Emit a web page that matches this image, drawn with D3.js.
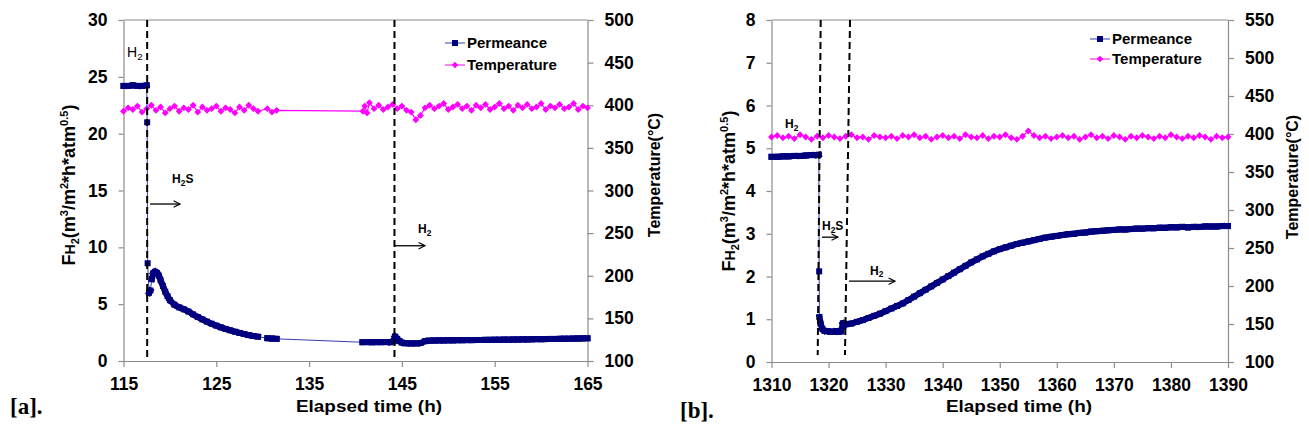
<!DOCTYPE html>
<html><head><meta charset="utf-8">
<script src="https://cdn.jsdelivr.net/npm/d3@7"></script>
<style>
body{margin:0;background:#fff;}
</style></head><body>
<svg id="c" width="1309" height="437"></svg>
<script>
// ---------------- DATA ----------------
// Panel [a]: permeance F_H2 (left axis) [hours, value]
const permA = [
 [115,24.2],[115.5,24.2],[116,24.25],[116.5,24.2],[117,24.2],[117.5,24.25],
 [117.55,21.0],[117.6,8.6],[117.75,6.0],[117.9,6.2],[118.05,7.2],[118.2,7.7],[118.4,7.85],[118.6,7.75],[118.8,7.5],
 [119,7.1],[119.25,6.6],[119.5,6.1],[119.75,5.7],[120,5.35],[120.5,4.95],[121,4.72],[121.5,4.55],[122,4.35],
 [122.5,4.1],[123,3.87],[123.5,3.66],[124,3.46],[124.5,3.28],[125,3.11],[125.5,2.96],[126,2.82],[126.5,2.7],
 [127,2.58],[127.5,2.47],[128,2.37],[128.5,2.28],[129,2.2],[129.5,2.14],
 [130.5,2.0],[131,1.97],[131.5,1.95],
 [140.75,1.65],[141.25,1.66],[141.75,1.65],[142.25,1.66],[142.75,1.66],[143.25,1.67],[143.75,1.66],
 [144.1,1.75],[144.25,2.15],[144.5,1.95],[144.75,1.75],[145,1.62],[145.5,1.56],[146,1.55],[146.5,1.55],
 [147,1.58],[147.5,1.74],[148,1.79],[148.5,1.8],[149,1.81],[149.5,1.81],[150,1.82],[150.5,1.82],[151,1.83],
 [151.5,1.83],[152,1.84],[152.5,1.84],[153,1.85],[153.5,1.85],[154,1.86],[154.5,1.86],[155,1.87],[155.5,1.87],
 [156,1.88],[156.5,1.88],[157,1.89],[157.5,1.89],[158,1.9],[158.5,1.9],[159,1.91],[159.5,1.92],[160,1.92],
 [160.5,1.93],[161,1.94],[161.5,1.94],[162,1.95],[162.5,1.96],[163,1.96],[163.5,1.97],[164,1.98],[164.5,1.99],[165,2.0]
];
// Panel [a]: temperature (right axis, °C)
const tempA = [
 [115,393],[115.5,397],[116,395],[116.5,399],[117,392],[117.5,396],[118,400],[118.5,394],[119,398],[119.5,391],
 [120,396],[120.5,399],[121,393],[121.5,397],[122,395],[122.5,400],[123,392],[123.5,398],[124,394],[124.5,396],
 [125,399],[125.5,393],[126,397],[126.5,395],[127,391],[127.5,398],[128,394],[128.5,400],[129,396],[129.5,393],
 [130.5,396],[131,392],[131.5,394],
 [140.8,393],[141,399],[141.25,391],[141.5,403],[142,396],[142.5,400],[143,395],[143.5,398],[144,401],[144.5,396],[145,399],[145.5,394],
 [146,392],[146.5,383],[147,388],[147.5,397],[148,400],[148.5,396],[149,399],[149.5,402],[150,395],[150.5,398],
 [151,401],[151.5,396],[152,399],[152.5,394],[153,400],[153.5,397],[154,401],[154.5,395],[155,398],[155.5,402],
 [156,396],[156.5,399],[157,394],[157.5,400],[158,397],[158.5,401],[159,396],[159.5,398],[160,402],[160.5,395],
 [161,399],[161.5,397],[162,401],[162.5,396],[163,398],[163.5,402],[164,395],[164.5,399],[165,397]
];
// Panel [b]: permeance
const permB = [
 [1310,4.8],[1311,4.8],[1312,4.81],[1313,4.81],[1314,4.82],[1315,4.82],[1316,4.83],[1317,4.84],[1318,4.84],[1318.3,4.85],
 [1318.35,2.12],[1318.4,1.05],[1318.6,0.9],[1318.9,0.78],[1319.3,0.73],[1319.8,0.72],[1320.3,0.71],[1320.8,0.71],
 [1321.3,0.72],[1321.8,0.71],[1322.2,0.72],[1322.5,0.9],[1322.7,0.86],
 [1323,0.88],[1324,0.9],[1325,0.94],[1326,0.98],[1327,1.03],[1328,1.08],[1329,1.13],[1330,1.19],[1331,1.25],[1332,1.31],
 [1333,1.37],[1334,1.45],[1335,1.53],[1336,1.61],[1337,1.69],[1338,1.77],[1339,1.85],[1340,1.93],[1341,2.01],[1342,2.09],
 [1343,2.17],[1344,2.25],[1345,2.33],[1346,2.4],[1347,2.47],[1348,2.53],[1349,2.59],[1350,2.64],[1351,2.68],[1352,2.72],
 [1353,2.76],[1354,2.79],[1355,2.82],[1356,2.85],[1357,2.88],[1358,2.91],[1359,2.93],[1360,2.95],[1361,2.97],[1362,2.99],
 [1363,3.0],[1364,3.02],[1365,3.03],[1366,3.05],[1367,3.06],[1368,3.07],[1369,3.08],[1370,3.09],[1371,3.1],[1372,3.1],
 [1373,3.11],[1374,3.12],[1375,3.12],[1376,3.13],[1377,3.13],[1378,3.14],[1379,3.14],[1380,3.15],[1381,3.15],[1382,3.16],
 [1383,3.15],[1384,3.16],[1385,3.16],[1386,3.17],[1387,3.17],[1388,3.17],[1389,3.18],[1390,3.18]
];
// Panel [b]: temperature
const tempB = [
 [1310,396],[1311,398],[1312,395],[1313,397],[1314,394],[1315,399],[1316,396],[1317,393],[1318,397],[1319,395],
 [1320,398],[1321,396],[1322,394],[1323,397],[1324,399],[1325,395],[1326,396],[1327,393],[1328,398],[1329,396],
 [1330,395],[1331,397],[1332,394],[1333,398],[1334,396],[1335,399],[1336,395],[1337,397],[1338,393],[1339,396],
 [1340,398],[1341,395],[1342,397],[1343,394],[1344,399],[1345,396],[1346,395],[1347,398],[1348,394],[1349,397],
 [1350,396],[1351,399],[1352,395],[1353,393],[1354,397],[1355,404],[1356,398],[1357,395],[1358,397],[1359,394],
 [1360,396],[1361,398],[1362,395],[1363,397],[1364,393],[1365,396],[1366,399],[1367,395],[1368,397],[1369,394],
 [1370,398],[1371,396],[1372,393],[1373,397],[1374,395],[1375,398],[1376,396],[1377,394],[1378,397],[1379,395],
 [1380,399],[1381,396],[1382,394],[1383,397],[1384,395],[1385,398],[1386,396],[1387,393],[1388,397],[1389,395],[1390,396]
];
// Tick labels
const xTicksA = [115,125,135,145,155,165];
const yLTicksA = [0,5,10,15,20,25,30];
const yRTicksA = [100,150,200,250,300,350,400,450,500];
const xTicksB = [1310,1320,1330,1340,1350,1360,1370,1380,1390];
const yLTicksB = [0,1,2,3,4,5,6,7,8];
const yRTicksB = [100,150,200,250,300,350,400,450,500,550];
// Gas switch lines: [hour at top, hour at bottom]
const switchA = [[117.55,117.55],[144.2,144.2]];
const switchB = [[1318.62,1318.1],[1323.76,1322.88]];
const legendNames = ["Permeance","Temperature"];

// ---------------- DRAWING ----------------
const FONT = '"Liberation Sans", Arial, sans-serif';
const NAVY = "#00007f", MAG = "#ff00ff", AX = "#8c8c8c", THIN = "#3a3ab0";
const svg = d3.select("#c");
const defs = svg.append("defs");
defs.append("marker").attr("id","arr").attr("viewBox","0 0 10 10").attr("refX",9).attr("refY",5)
  .attr("markerWidth",8).attr("markerHeight",8).attr("markerUnits","userSpaceOnUse").attr("orient","auto")
  .append("path").attr("d","M1,1 L9,5 L1,9").attr("fill","none").attr("stroke","#000").attr("stroke-width",1.4);

function styleAxis(sel){
  sel.attr("font-family",FONT).attr("font-size",17.5);
  sel.selectAll(".domain, .tick line").attr("stroke",AX).attr("stroke-width",1.2);
  sel.selectAll("text").attr("font-weight","bold").attr("fill","#000");
}
function panel(c){
  const x = d3.scaleLinear().domain(c.xDom).range([c.left,c.right]);
  const yL = d3.scaleLinear().domain(c.yLDom).range([c.bottom,c.top]);
  const yR = d3.scaleLinear().domain(c.yRDom).range([c.bottom,c.top]);
  const g = svg.append("g");
  g.append("line").attr("x1",c.left).attr("x2",c.right).attr("y1",c.top).attr("y2",c.top).attr("stroke",AX).attr("stroke-width",1.2);
  g.append("g").attr("transform",`translate(0,${c.bottom})`)
    .call(d3.axisBottom(x).tickValues(c.xTicks).tickFormat(d3.format("d")).tickSize(6).tickSizeOuter(0).tickPadding(11)).call(styleAxis);
  g.append("g").attr("transform",`translate(${c.left},0)`)
    .call(d3.axisLeft(yL).tickValues(c.yLTicks).tickFormat(d3.format("d")).tickSize(5).tickSizeOuter(0).tickPadding(11)).call(styleAxis);
  g.append("g").attr("transform",`translate(${c.right},0)`)
    .call(d3.axisRight(yR).tickValues(c.yRTicks).tickFormat(d3.format("d")).tickSize(6).tickSizeOuter(0).tickPadding(11)).call(styleAxis);

  // temperature series
  const lineT = d3.line().x(d=>x(d[0])).y(d=>yR(d[1]));
  g.append("path").datum(c.temp).attr("d",lineT).attr("fill","none").attr("stroke",MAG).attr("stroke-width",1.2);
  g.selectAll(".tm").data(c.temp).enter().append("path")
    .attr("d",d3.symbol(d3.symbolDiamond2,30)).attr("transform",d=>`translate(${x(d[0])},${yR(d[1])})`).attr("fill",MAG);
  // permeance series: thin line everywhere, heavy band where logged points are dense
  const lineP = d3.line().x(d=>x(d[0])).y(d=>yL(d[1]));
  g.append("path").datum(c.perm).attr("d",lineP).attr("fill","none").attr("stroke",THIN).attr("stroke-width",1);
  const pairs = d3.pairs(c.perm).filter(([a,b])=>Math.hypot(x(b[0])-x(a[0]), yL(b[1])-yL(a[1])) < 8);
  g.selectAll(".pb").data(pairs).enter().append("line")
    .attr("x1",d=>x(d[0][0])).attr("y1",d=>yL(d[0][1])).attr("x2",d=>x(d[1][0])).attr("y2",d=>yL(d[1][1]))
    .attr("stroke",NAVY).attr("stroke-width",6).attr("stroke-linecap","square");
  g.selectAll(".pm").data(c.perm).enter().append("rect")
    .attr("x",d=>x(d[0])-3).attr("y",d=>yL(d[1])-3).attr("width",6).attr("height",6).attr("fill",NAVY);

  // switch lines
  c.switches.forEach(s=>{
    g.append("line").attr("x1",x(s[0])).attr("x2",x(s[1])).attr("y1",c.top).attr("y2",c.dashBottom)
      .attr("stroke","#000").attr("stroke-width",2).attr("stroke-dasharray","7,4");
  });

  // annotations
  c.notes.forEach(n=>{
    const t = g.append("text").attr("x",x(n.h)).attr("y",yL(n.v)).attr("font-family",FONT)
      .attr("font-size",n.fs).attr("font-weight",n.bold?"bold":"normal").attr("fill","#000");
    t.append("tspan").text("H");
    t.append("tspan").text("2").attr("font-size",n.fs*0.7).attr("dy",n.fs*0.22);
    if(n.s) t.append("tspan").text(n.s).attr("dy",-n.fs*0.22);
  });
  c.arrows.forEach(a=>{
    g.append("line").attr("x1",x(a.h0)).attr("x2",x(a.h1)).attr("y1",yL(a.v)).attr("y2",yL(a.v))
      .attr("stroke","#000").attr("stroke-width",1.3).attr("marker-end","url(#arr)");
  });

  // legend
  const lg = g.append("g");
  [[NAVY,"sq"],[MAG,"di"]].forEach((m,i)=>{
    const yy = c.legY[i];
    lg.append("line").attr("x1",c.legX).attr("x2",c.legX+20).attr("y1",yy).attr("y2",yy).attr("stroke",m[0]==NAVY?THIN:MAG).attr("stroke-width",1);
    if(m[1]=="sq") lg.append("rect").attr("x",c.legX+7).attr("y",yy-3).attr("width",6).attr("height",6).attr("fill",NAVY);
    else lg.append("path").attr("d",d3.symbol(d3.symbolDiamond2,26)).attr("transform",`translate(${c.legX+10},${yy})`).attr("fill",MAG);
    lg.append("text").attr("x",c.legX+22).attr("y",yy).attr("dy","0.36em").attr("font-family",FONT)
      .attr("font-size",15).attr("font-weight","bold").text(legendNames[i]);
  });

  // left axis title
  const lt = g.append("text").attr("transform",`translate(${c.ltX},${c.ltY}) rotate(-90)`).attr("text-anchor","middle")
    .attr("font-family",FONT).attr("font-size",18).attr("font-weight","bold");
  lt.append("tspan").text("F");
  lt.append("tspan").text("H").attr("font-size",14);
  lt.append("tspan").text("2").attr("font-size",11).attr("dy",4);
  lt.append("tspan").text("(m").attr("dy",-4);
  lt.append("tspan").text("3").attr("font-size",11).attr("dy",-7);
  lt.append("tspan").text("/m").attr("dy",7);
  lt.append("tspan").text("2").attr("font-size",11).attr("dy",-7);
  lt.append("tspan").text("*h*atm").attr("dy",7);
  lt.append("tspan").text("0.5").attr("font-size",11).attr("dy",-7);
  lt.append("tspan").text(")").attr("dy",7);
  // right axis title
  g.append("text").attr("transform",`translate(${c.rtX},${c.rtY}) rotate(-90)`).attr("text-anchor","middle")
    .attr("font-family",FONT).attr("font-size",16).attr("font-weight","bold").text("Temperature(°C)");
  // x title
  g.append("text").attr("x",c.xtX).attr("y",412).attr("text-anchor","middle").attr("font-family",FONT)
    .attr("font-size",17).attr("font-weight","bold").attr("textLength",146).attr("lengthAdjust","spacingAndGlyphs")
    .text("Elapsed time (h)");
  // panel tag
  g.append("text").attr("x",c.tagX).attr("y",c.tagY).attr("font-family",'"Liberation Serif","Times New Roman",serif')
    .attr("font-size",23).attr("font-weight","bold").text(c.tag);
}

panel({
  xDom:[115,165], yLDom:[0,30], yRDom:[100,500], left:123.5, right:587.5, top:20, bottom:361, dashBottom:357,
  xTicks:xTicksA, yLTicks:yLTicksA, yRTicks:yRTicksA, perm:permA, temp:tempA, switches:switchA,
  notes:[{h:115.38,v:26.74,fs:14,bold:false},{h:120.23,v:15.66,fs:12,bold:true,s:"S"},{h:146.73,v:11.26,fs:12,bold:true}],
  arrows:[{h0:117.86,h1:121.09,v:13.81},{h0:144.2,h1:147.49,v:10.14}],
  legX:445, legY:[43,65], ltX:75, ltY:185, rtX:660, rtY:175, xtX:369, tag:"[a].", tagX:10, tagY:414
});
panel({
  xDom:[1310,1390], yLDom:[0,8], yRDom:[100,550], left:771.5, right:1228, top:20, bottom:362, dashBottom:355,
  xTicks:xTicksB, yLTicks:yLTicksB, yRTicks:yRTicksB, perm:permB, temp:tempB, switches:switchB,
  notes:[{h:1312.37,v:5.47,fs:12,bold:true},{h:1318.85,v:3.09,fs:12,bold:true,s:"S"},{h:1327.26,v:2.04,fs:12,bold:true}],
  arrows:[{h0:1318.85,h1:1321.65,v:2.92},{h0:1323.58,h1:1331.64,v:1.89}],
  legX:1090, legY:[39,59], ltX:735, ltY:191, rtX:1298, rtY:177, xtX:1019, tag:"[b].", tagX:680, tagY:418
});
</script>
</body></html>
